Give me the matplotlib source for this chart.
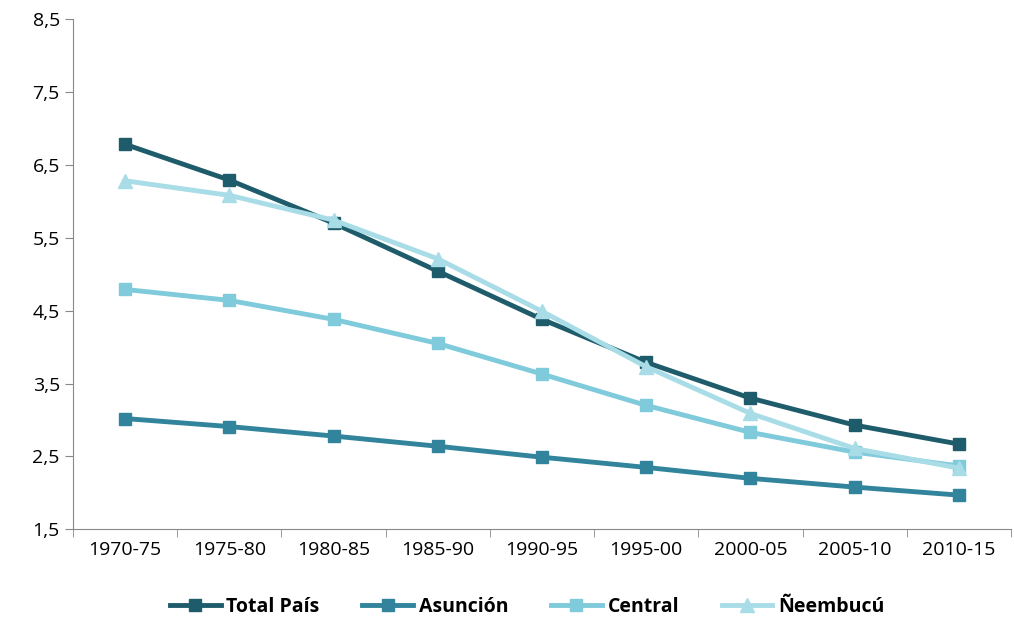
import matplotlib.pyplot as plt
import numpy as np

plt.rcParams['font.family'] = ['Open Sans', 'DejaVu Sans']

periods = ["1970-75", "1975-80", "1980-85", "1985-90", "1990-95",
           "1995-00", "2000-05", "2005-10", "2010-15"]
total_pais = [6.78, 6.29, 5.70, 5.04, 4.38, 3.79, 3.30, 2.93, 2.67]
asuncion = [3.02, 2.91, 2.78, 2.64, 2.49, 2.35, 2.20, 2.08, 1.97]
central = [4.79, 4.64, 4.38, 4.05, 3.63, 3.20, 2.83, 2.56, 2.37]
neembucu = [6.28, 6.08, 5.74, 5.21, 4.49, 3.73, 3.09, 2.61, 2.34]

fig = plt.figure(figsize=(10.14, 6.28), dpi=100)
ax = fig.add_axes([0.072, 0.157, 0.925, 0.813])
x = np.arange(len(periods))

ax.plot(x, total_pais, color="#1F5C6B", lw=3.5, marker="s", ms=9, label="Total País")
ax.plot(x, asuncion, color="#31849B", lw=3.5, marker="s", ms=8, label="Asunción")
ax.plot(x, central, color="#7FCADB", lw=3.5, marker="s", ms=8, label="Central")
ax.plot(x, neembucu, color="#A8DCE6", lw=3.5, marker="^", ms=10, label="Ñeembucú")

ax.set_xlim(-0.5, len(periods) - 0.5)
ax.set_ylim(1.5, 8.5)
ax.set_yticks(np.arange(1.5, 8.6, 1.0))
ax.set_yticklabels([f"{v:.1f}".replace(".", ",") for v in np.arange(1.5, 8.6, 1.0)])
ax.set_xticks(x)
ax.set_xticklabels(periods)
ax.set_xticks(np.arange(-0.5, len(periods), 1.0), minor=True)
ax.tick_params(axis="x", which="major", length=0, labelsize=14, pad=8)
ax.tick_params(axis="x", which="minor", length=6, color="#888888")
ax.tick_params(axis="y", labelsize=14, length=6, color="#888888")
for s in ["top", "right"]:
    ax.spines[s].set_visible(False)
for s in ["left", "bottom"]:
    ax.spines[s].set_color("#888888")

leg = fig.legend(loc="lower center", ncol=4, frameon=False, bbox_to_anchor=(0.52, -0.01),
                 prop={"weight": "bold", "size": 14}, handlelength=2.6,
                 handletextpad=0.3, columnspacing=2.2)

fig.savefig("out.png", dpi=100)
